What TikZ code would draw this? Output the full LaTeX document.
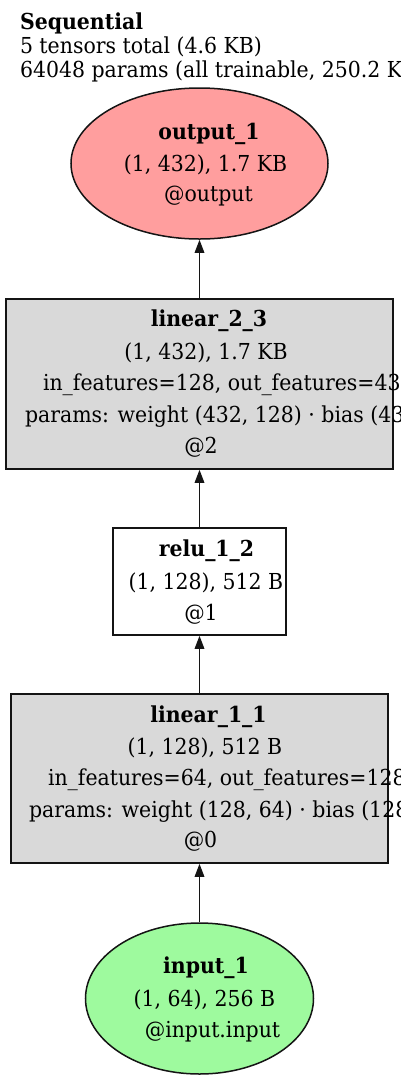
\documentclass[tikz,border=0pt]{standalone}
\usepackage{fontspec}
\setmainfont{DejaVu Serif}[FakeStretch=0.93]
\usetikzlibrary{arrows.meta,shapes.geometric}
\definecolor{outred}{RGB}{255,158,158}
\definecolor{ingreen}{RGB}{158,250,158}
\definecolor{boxgray}{RGB}{217,217,217}
\definecolor{edgecol}{RGB}{20,20,20}
\newcommand\dfs{\fontsize{22bp}{26bp}\selectfont}
\begin{document}
\begin{tikzpicture}[x=1bp,y=-1bp,
  shapebox/.style={draw=edgecol, line width=1.5bp, inner sep=0, rectangle},
  oval/.style={draw=edgecol, line width=1.5bp, inner sep=0, ellipse},
  txt/.style={inner sep=0, outer sep=0, anchor=base, font=\dfs},
  btxt/.style={txt, font=\dfs\bfseries},
  ltxt/.style={txt, anchor=base west},
  lbtxt/.style={btxt, anchor=base west},
  conn/.style={draw=edgecol, line width=1.6bp, -{Triangle[length=13bp,width=9.5bp]}}]
\useasboundingbox (0,0) rectangle (400,1082);
\clip (0,0) rectangle (400,1082);
% title
\node[lbtxt] (t1) at (20,29) {Sequential};
\node[ltxt] (t2) at (20,53) {5 tensors total (4.6 KB)};
\node[ltxt] (t3) at (20,77) {64048 params (all trainable, 250.2 KB)};
% shapes
\node[oval, fill=outred, minimum width=257bp, minimum height=151bp] (out) at (199.5,163.5) {};
\node[shapebox, fill=boxgray, minimum width=387bp, minimum height=170bp] (lin2) at (199.5,384) {};
\node[shapebox, fill=white, minimum width=173bp, minimum height=107bp] (relu) at (199.5,581.5) {};
\node[shapebox, fill=boxgray, minimum width=377bp, minimum height=169bp] (lin1) at (199.5,778.5) {};
\node[oval, fill=ingreen, minimum width=228bp, minimum height=151bp] (inp) at (199.5,998.5) {};
% connectors
\draw[conn] (inp.north) -- (lin1.south);
\draw[conn] (lin1.north) -- (relu.south);
\draw[conn] (relu.north) -- (lin2.south);
\draw[conn] (lin2.north) -- (out.south);
% output text
\node[btxt] (o1) at (209,139) {output\_1};
\node[txt] (o2) at (205.5,171) {(1, 432), 1.7 KB};
\node[txt] (o3) at (208.5,201) {@output};
% linear_2_3 text
\node[btxt] (a1) at (209,326) {linear\_2\_3};
\node[txt] (a2) at (206,359) {(1, 432), 1.7 KB};
\node[ltxt] (a3) at (43,390) {in\_features=128, out\_features=432};
\node[ltxt] (a4) at (25,422) {params: weight (432, 128) · bias (432,)};
\node[txt] (a5) at (201,453) {@2};
% relu text
\node[btxt] (r1) at (206.5,556) {relu\_1\_2};
\node[txt] (r2) at (206,589) {(1, 128), 512 B};
\node[txt] (r3) at (201,620) {@1};
% linear_1_1 text
\node[btxt] (b1) at (208.5,722) {linear\_1\_1};
\node[txt] (b2) at (205,754) {(1, 128), 512 B};
\node[ltxt] (b3) at (48,785) {in\_features=64, out\_features=128};
\node[ltxt] (b4) at (29,817) {params: weight (128, 64) · bias (128,)};
\node[txt] (b5) at (200.5,847) {@0};
% input text
\node[btxt] (i1) at (206,973) {input\_1};
\node[txt] (i2) at (204.5,1006) {(1, 64), 256 B};
\node[txt] (i3) at (212.5,1037) {@input.input};
\end{tikzpicture}
\end{document}
